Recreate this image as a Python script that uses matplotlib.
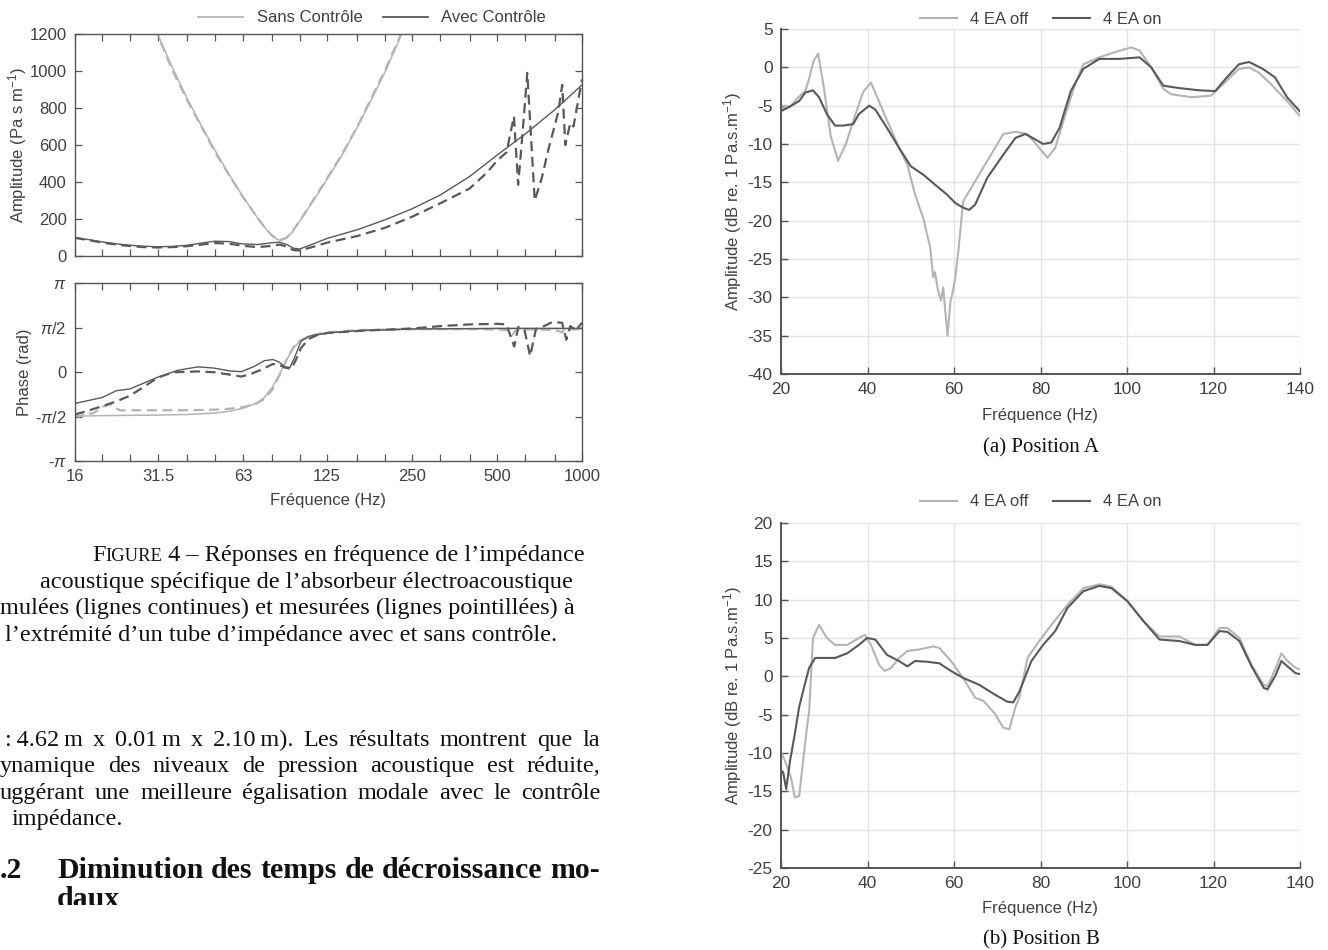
import numpy as np
import matplotlib.pyplot as plt
from matplotlib.lines import Line2D
from matplotlib.ticker import NullLocator
from matplotlib.transforms import Bbox

plt.rcParams['font.family'] = ['Liberation Sans', 'DejaVu Sans']
plt.rcParams['mathtext.fontset'] = 'custom'
plt.rcParams['mathtext.rm'] = 'Liberation Sans'
plt.rcParams['mathtext.it'] = 'Liberation Sans:italic'
plt.rcParams['axes.unicode_minus'] = False

LIGHT = '#b4b4b4'
DARK = '#595959'
TXT = '#404040'
SERIF = ['Liberation Serif', 'DejaVu Serif']

# ---- Figure 4 : impedance amplitude ----
f_sans = [25, 28, 31.5, 35.5, 40, 45, 50, 56, 63, 71, 76, 80, 83, 85, 87, 90, 94,
          100, 112, 125, 140, 160, 180, 200, 224, 240]
amp_sans_sim = [1595, 1390, 1195, 1015, 850, 700, 575, 445, 320, 205, 145, 108, 90,
                86, 88, 98, 128, 188, 300, 415, 535, 695, 850, 990, 1160, 1270]
amp_sans_mes = [1600, 1380, 1190, 1000, 840, 695, 565, 440, 318, 205, 145, 110, 92,
                88, 90, 100, 130, 190, 305, 420, 540, 700, 858, 1000, 1170, 1280]

f_avec_sim = [16, 18, 20, 22.4, 25, 28, 31.5, 35.5, 40, 45, 50, 56, 63, 71, 80, 85,
              90, 95, 100, 112, 125, 160, 200, 250, 315, 400, 500, 630, 800, 1000]
amp_avec_sim = [99, 88, 76, 66, 58, 53, 50, 52, 58, 70, 80, 78, 65, 62, 72, 75,
                62, 42, 38, 66, 95, 142, 195, 255, 330, 430, 545, 660, 790, 925]

f_avec_mes = [16, 18, 20, 22.4, 25, 28, 31.5, 35.5, 40, 45, 50, 56, 63, 71, 80, 85,
              90, 95, 100, 112, 125, 160, 200, 250, 315, 400, 460, 500, 540, 574,
              594, 614, 640, 680, 720, 760, 823, 851, 873, 909, 933, 1000]
amp_avec_mes = [98, 85, 72, 62, 54, 48, 46, 48, 53, 62, 70, 67, 55, 48, 55, 62,
                50, 32, 30, 50, 72, 108, 152, 212, 285, 365, 450, 515, 560, 755,
                385, 640, 990, 300, 420, 575, 775, 925, 600, 720, 700, 955]

# ---- Figure 4 : impedance phase (rad) ----
fp_sans_sim = [16, 20, 25, 31.5, 40, 50, 56, 63, 70, 75, 80, 85, 90, 95, 100, 110,
               125, 160, 250, 500, 1000]
ph_sans_sim = [-1.56, -1.54, -1.53, -1.52, -1.50, -1.45, -1.39, -1.28, -1.11, -0.90,
               -0.54, -0.06, 0.44, 0.84, 1.08, 1.28, 1.38, 1.46, 1.51, 1.53, 1.53]

fp_sans_mes = [16, 16.5, 17.6, 18.4, 19.3, 20.1, 21.4, 22.4, 23.2, 25, 31.5, 40, 50,
               56, 63, 70, 75, 80, 85, 90, 95, 100, 110, 125, 160, 250, 400, 500,
               550, 565, 580, 600, 700, 800, 850, 870, 900, 1000]
ph_sans_mes = [-1.50, -1.58, -1.44, -1.47, -1.35, -1.22, -1.14, -1.28, -1.36, -1.35,
               -1.35, -1.35, -1.33, -1.30, -1.24, -1.12, -0.95, -0.62, -0.10, 0.45,
               0.88, 1.10, 1.30, 1.40, 1.48, 1.51, 1.51, 1.50, 1.48, 1.30, 1.45,
               1.50, 1.50, 1.48, 1.40, 1.52, 1.50, 1.51]

fp_avec_sim = [16, 20, 22.4, 25, 31.5, 37, 43.5, 49.6, 56.4, 62, 68.4, 75, 80.3,
               84.3, 88.6, 92.4, 96.2, 101, 107.5, 126, 162, 253, 500, 1000]
ph_avec_sim = [-1.11, -0.90, -0.66, -0.60, -0.18, 0.06, 0.18, 0.14, 0.04, 0.01, 0.18,
               0.40, 0.44, 0.36, 0.18, 0.16, 0.54, 1.08, 1.26, 1.38, 1.46, 1.52,
               1.54, 1.54]

fp_avec_mes = [16, 17.6, 20.1, 22.4, 25, 27.9, 31.4, 35.6, 43.5, 50, 57.2, 62, 66,
               73.1, 80.3, 84.3, 88.6, 93.3, 96.9, 101, 107.5, 115, 126, 162, 253,
               317, 400, 500, 540, 575, 595, 625, 655, 687, 734, 783, 850, 880, 909,
               950, 1000]
ph_avec_mes = [-1.50, -1.38, -1.20, -1.04, -0.84, -0.54, -0.20, -0.01, 0.02, -0.01,
               -0.10, -0.16, -0.10, 0.08, 0.28, 0.26, 0.16, 0.11, 0.42, 0.84, 1.16,
               1.30, 1.38, 1.45, 1.54, 1.62, 1.68, 1.70, 1.68, 0.90, 1.59, 1.50,
               0.56, 1.52, 1.62, 1.76, 1.74, 1.14, 1.62, 1.47, 1.74]

third_oct = [16, 20, 25, 31.5, 40, 50, 63, 80, 100, 125, 160, 200, 250, 315, 400,
             500, 630, 800, 1000]
third_lbl = ['16', '', '', '31.5', '', '', '63', '', '', '125', '', '', '250', '',
             '', '500', '', '', '1000']

# ---- Position A (dB) ----
fa_off = [20, 21, 22, 24, 25.6, 26.5, 27.5, 28.6, 30, 31.5, 33.2, 35, 37, 39, 40.8,
          43.6, 47.3, 49.2, 51, 52.9, 54.5, 55.2, 55.6, 56.3, 57, 57.5, 58.5, 59.2,
          59.6, 60.3, 61, 62.1, 64, 67.7, 71.4, 74.2, 77, 79.7, 81.6, 83.4, 85.3,
          88, 89.9, 93.6, 97.3, 101, 102.9, 105.6, 108.4, 110.2, 114.9, 119.4,
          122.2, 125.9, 128.2, 130.5, 133.3, 137, 139.9]
da_off = [-5.9, -5.0, -5.2, -3.9, -3.1, -1.5, 0.8, 1.8, -3.0, -9.0, -12.2, -10.0,
          -6.5, -3.2, -2.0, -5.7, -10.5, -12.7, -16.6, -19.7, -23.5, -27.4, -26.7,
          -29.1, -30.4, -28.7, -35.0, -30.4, -29.6, -27.4, -24.0, -17.5, -15.7,
          -12.2, -8.7, -8.4, -8.7, -10.5, -11.8, -10.5, -7.0, -2.2, 0.4, 1.3, 2.0,
          2.6, 2.2, 0.0, -2.8, -3.5, -3.9, -3.7, -2.2, -0.2, 0.0, -0.7, -2.2, -4.4,
          -6.3]

fa_on = [20, 21.8, 24.2, 25.6, 27.4, 28.8, 30.6, 32.5, 34.4, 36.7, 38, 40.4, 41.8,
         44.5, 47.3, 50, 52.9, 55.6, 58.4, 60.3, 62.1, 63.5, 64.9, 67.7, 71.4, 74.2,
         76.5, 78.8, 80.6, 82.5, 84.4, 87, 89.9, 93.6, 98.2, 102.9, 105.6, 108.4,
         112, 116.7, 120.4, 123.1, 125.9, 128.2, 131.4, 134.2, 137, 139.9]
da_on = [-5.7, -5.2, -4.4, -3.3, -3.0, -3.9, -6.1, -7.6, -7.6, -7.4, -6.1, -5.0,
         -5.5, -7.9, -10.5, -12.9, -14.0, -15.3, -16.6, -17.7, -18.3, -18.6, -17.9,
         -14.4, -11.4, -9.2, -8.7, -9.4, -10.0, -9.8, -7.9, -3.1, -0.2, 1.1, 1.1,
         1.3, 0.0, -2.4, -2.7, -3.0, -3.1, -1.3, 0.4, 0.7, -0.2, -1.3, -3.9, -5.7]

# ---- Position B (dB) ----
fb_off = [20, 20.9, 22.3, 23.2, 24.2, 25.3, 26, 26.5, 27.4, 28.8, 30.6, 32.5, 35.3,
          38, 39.4, 40.8, 42.7, 44, 45.5, 47.3, 49.2, 51.9, 55.2, 56.6, 59.3, 62.1,
          64.9, 66.8, 69.5, 71.4, 72.8, 74.2, 75.1, 77, 79.7, 82.5, 86.2, 89.9,
          93.6, 96.4, 100.1, 103.8, 107.5, 112.1, 115.8, 118.6, 121.4, 123.2, 126,
          128.8, 131.6, 132.5, 134.4, 135.7, 137.1, 139, 140]
db_off = [-9.9, -11.0, -13.2, -15.8, -15.6, -10.1, -6.7, -4.6, 5.0, 6.7, 5.0, 4.1,
          4.1, 5.0, 5.4, 4.1, 1.5, 0.7, 1.1, 2.4, 3.3, 3.5, 3.9, 3.7, 2.0, -0.2,
          -2.8, -3.2, -4.9, -6.7, -6.9, -4.0, -2.8, 2.4, 4.6, 6.7, 9.3, 11.5, 12.0,
          11.7, 9.8, 7.2, 5.2, 5.2, 4.1, 4.1, 6.3, 6.3, 5.0, 1.5, -1.1, -1.3, 1.1,
          3.0, 2.0, 1.1, 0.9]

fb_on = [20, 20.5, 21.2, 22.1, 23.2, 24.2, 25.3, 26.5, 27.9, 30.6, 32.5, 35.3, 38,
         39.9, 41.8, 44.5, 47.3, 49.2, 51, 53.8, 56.6, 59.3, 62.1, 65.8, 69.5, 72.3,
         73.7, 75.1, 77.9, 80.6, 83.4, 86.2, 89.9, 93.6, 96.4, 100.1, 103.8, 107.5,
         112.1, 115.8, 118.6, 121.4, 123.2, 126, 128.8, 131.6, 132.5, 134.4, 135.7,
         137.1, 139, 140]
db_on = [-12.3, -12.5, -14.7, -11.0, -7.5, -4.0, -1.5, 1.1, 2.4, 2.4, 2.4, 3.0, 4.1,
         5.0, 4.8, 2.8, 2.0, 1.3, 2.0, 1.9, 1.7, 0.7, -0.2, -1.1, -2.4, -3.3, -3.4,
         -2.0, 2.0, 4.1, 5.9, 8.9, 11.1, 11.8, 11.5, 9.8, 7.2, 4.8, 4.6, 4.1, 4.1,
         5.9, 5.8, 4.6, 1.3, -1.5, -1.7, 0.2, 2.0, 1.3, 0.4, 0.3]

W, H = 1328, 950
fig = plt.figure(figsize=(W / 100, H / 100), dpi=100)


def rect(x0, y0, x1, y1):
    return [x0 / W, 1 - y1 / H, (x1 - x0) / W, (y1 - y0) / H]


def style_left(ax):
    ax.set_xscale('log')
    ax.set_xlim(16, 1000)
    ax.set_xticks(third_oct)
    ax.xaxis.set_minor_locator(NullLocator())
    ax.tick_params(direction='in', top=True, right=True, length=5, width=0.9,
                   colors='#555555', labelcolor=TXT, labelsize=12, pad=6)
    for s in ax.spines.values():
        s.set_color('#555555')
        s.set_linewidth(1.0)


dash = (4.5, 2.5)

# amplitude
ax1 = fig.add_axes(rect(75, 34, 582, 256))
ax1.plot(f_sans, amp_sans_sim, color=LIGHT, lw=1.1)
ax1.plot(f_sans, amp_sans_mes, color=LIGHT, lw=1.6, dashes=dash)
ax1.plot(f_avec_sim, amp_avec_sim, color=DARK, lw=1.0)
ax1.plot(f_avec_mes, amp_avec_mes, color=DARK, lw=1.6, dashes=dash)
style_left(ax1)
ax1.set_xticklabels([])
ax1.set_ylim(0, 1200)
ax1.set_yticks(range(0, 1201, 200))
ax1.set_ylabel('Amplitude (Pa s m$^{-1}$)', color=TXT, fontsize=12, va='center')
ax1.yaxis.set_label_coords((18 - 75) / 507, 0.5)

# phase
ax2 = fig.add_axes(rect(75, 283, 582, 461))
ax2.plot(fp_sans_sim, ph_sans_sim, color=LIGHT, lw=1.1)
ax2.plot(fp_sans_mes, ph_sans_mes, color=LIGHT, lw=1.6, dashes=dash)
ax2.plot(fp_avec_sim, ph_avec_sim, color=DARK, lw=1.0)
ax2.plot(fp_avec_mes, ph_avec_mes, color=DARK, lw=1.6, dashes=dash)
style_left(ax2)
ax2.set_xticklabels(third_lbl)
ax2.set_ylim(-np.pi, np.pi)
ax2.set_yticks([-np.pi, -np.pi / 2, 0, np.pi / 2, np.pi])
ax2.set_yticklabels(['-$\\pi$', '-$\\pi$/2', '0', '$\\pi$/2', '$\\pi$'])
ax2.set_ylabel('Phase (rad)', color=TXT, fontsize=12, va='center')
ax2.yaxis.set_label_coords((25 - 75) / 507, 0.5)
ax2.set_xlabel('Fréquence (Hz)', color=TXT, fontsize=12)
ax2.xaxis.set_label_coords(0.5, -(500 - 461) / 178)
ax2.xaxis.label.set_va('center')

fig.legend(handles=[Line2D([], [], color=LIGHT, lw=1.3, label='Sans Contrôle'),
                    Line2D([], [], color=DARK, lw=1.3, label='Avec Contrôle')],
           loc='center', bbox_to_anchor=(372 / W, 1 - 18 / H), ncol=2,
           frameon=False, fontsize=12, handlelength=2.7, columnspacing=1.2,
           labelcolor=TXT)


def style_right(ax, lo, hi):
    ax.set_xlim(20, 140)
    ax.set_ylim(lo, hi)
    ax.set_xticks(range(20, 141, 20))
    ax.set_yticks(range(lo, hi + 1, 5))
    ax.grid(True, color='#e3e3e3', lw=1.0)
    ax.set_axisbelow(True)
    ax.spines['top'].set_visible(False)
    ax.spines['right'].set_visible(False)
    for s in ('left', 'bottom'):
        ax.spines[s].set_color('#555555')
        ax.spines[s].set_linewidth(1.4)
    ax.tick_params(direction='in', length=5, width=1.0, colors='#555555',
                   labelcolor=TXT, labelsize=12.5, pad=6)
    ax.set_ylabel('Amplitude (dB re. 1 Pa.s.m$^{-1}$)', color=TXT, fontsize=12,
                  va='center')
    ax.yaxis.set_label_coords((733 - 781) / 519, 0.5)
    ax.set_xlabel('Fréquence (Hz)', color=TXT, fontsize=12)
    ax.xaxis.set_label_coords(0.5, -41 / 345)
    ax.xaxis.label.set_va('center')


axA = fig.add_axes(rect(781, 29, 1300, 374))
axA.plot(fa_off, da_off, color=LIGHT, lw=1.5)
axA.plot(fa_on, da_on, color=DARK, lw=1.5)
style_right(axA, -40, 5)

axB = fig.add_axes(rect(781, 523, 1300, 868))
axB.plot(fb_off, db_off, color=LIGHT, lw=1.5)
axB.plot(fb_on, db_on, color=DARK, lw=1.5)
style_right(axB, -25, 20)

for yl in (19, 502):
    fig.legend(handles=[Line2D([], [], color=LIGHT, lw=1.5, label='4 EA off'),
                        Line2D([], [], color=DARK, lw=1.5, label='4 EA on')],
               loc='center', bbox_to_anchor=(1041 / W, 1 - yl / H), ncol=2,
               frameon=False, fontsize=12, handlelength=2.2, columnspacing=1.5,
               labelcolor=TXT)

fig.text(1041 / W, 1 - 448 / H, '(a) Position A', family=SERIF, fontsize=15,
         ha='center', va='center', color='#111111')
fig.text(1041 / W, 1 - 940 / H, '(b) Position B', family=SERIF, fontsize=15,
         ha='center', va='center', color='#111111')

# ---- page text on the left ----
rend = fig.canvas.get_renderer()


def run(pieces, x0, yb, x1=None, clip=None):
    # pieces: list of (text, size, weight) placed on one baseline
    ts = []
    for txt, size, weight in pieces:
        ts.append(fig.text(0, 1 - yb / H, txt, family=SERIF, fontsize=size,
                           fontweight=weight, va='baseline', color='#111111'))
    widths = [t.get_window_extent(rend).width for t in ts]
    gap = 0
    if x1 is not None and len(ts) > 1:
        gap = (x1 - x0 - sum(widths)) / (len(ts) - 1)
    x = x0
    for t, w in zip(ts, widths):
        t.set_x(x / W)
        if clip is not None:
            t.set_clip_box(clip)
            t.set_clip_on(True)
        x += w + gap


def words(line, size, weight='normal'):
    return [(w, size, weight) for w in line.split(' ')]


BODY = 17.5
run([('F', BODY, 'normal'), ('IGURE', BODY * 0.76, 'normal'),
     (' 4 – Réponses en fréquence de l’impédance', BODY, 'normal')], 92, 561)
run([('acoustique spécifique de l’absorbeur électroacoustique', BODY, 'normal')], 40, 588)
run([('mulées (lignes continues) et mesurées (lignes pointillées) à', BODY, 'normal')], 0, 614)
run([('l’extrémité d’un tube d’impédance avec et sans contrôle.', BODY, 'normal')], 5, 641)

run(words(':\u20094.62\u2009m x 0.01\u2009m x 2.10\u2009m). Les résultats montrent que la',
          BODY), 5, 746, 600)
run(words('ynamique des niveaux de pression acoustique est réduite,', BODY), 0, 772, 600)
run(words('uggérant une meilleure égalisation modale avec le contrôle', BODY), 0, 799, 600)
run([('impédance.', BODY, 'normal')], 12, 825)

cut = Bbox.from_extents(0, H - 905, W, H)
run([('.2', 21.5, 'bold')], 0, 878)
run(words('Diminution des temps de décroissance mo-', 21.5, 'bold'), 57, 878, 600)
run([('daux', 21.5, 'bold')], 57, 907, clip=cut)

fig.savefig('out.png', dpi=100)
